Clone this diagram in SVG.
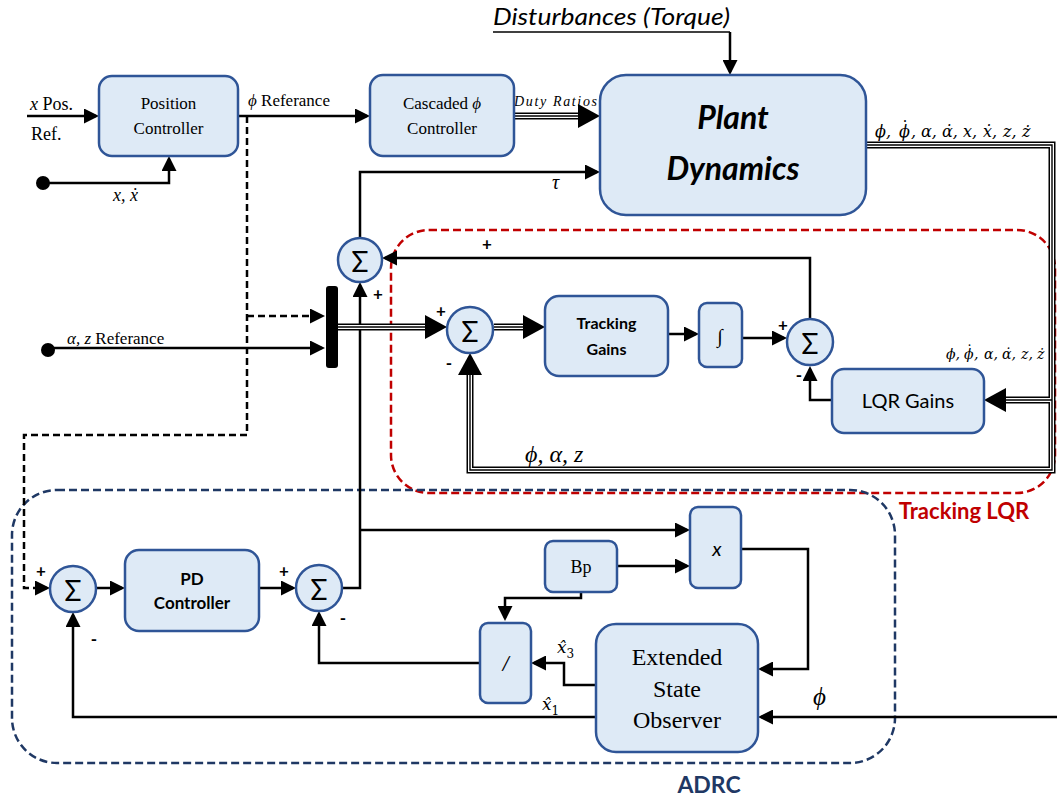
<svg xmlns="http://www.w3.org/2000/svg" width="1057" height="800" viewBox="0 0 1057 800">
<defs>
<style>
.box{fill:#DEEAF6;stroke:#2F5597;stroke-width:2.5}
.ln{fill:none;stroke:#000;stroke-width:2.5}
.dash{fill:none;stroke:#000;stroke-width:2.5;stroke-dasharray:7 4}
.t1{fill:none;stroke:#000;stroke-width:7}
.t2{fill:none;stroke:#fff;stroke-width:4}
.t3{fill:none;stroke:#000;stroke-width:1.4}
.serif{font-family:"Liberation Serif","DejaVu Serif",serif;fill:#000}
.math{font-family:"Liberation Serif","DejaVu Serif",serif;font-style:italic;fill:#000}
.dv{font-family:"DejaVu Serif","Liberation Serif",serif;font-style:italic;fill:#000}
.sans{font-family:Lato,"Open Sans","Liberation Sans",sans-serif;fill:#000}
.sig{font-family:Lato,"Open Sans","Liberation Sans",sans-serif;font-size:28px;text-anchor:middle;dominant-baseline:central}
.pm{font-family:Lato,"Liberation Sans",sans-serif;font-size:17px;font-weight:bold;text-anchor:middle;dominant-baseline:central}
.mid{text-anchor:middle}
</style>
<marker id="a" markerUnits="userSpaceOnUse" markerWidth="15" markerHeight="15" refX="12" refY="7.5" orient="auto"><path d="M0,0 L15,7.5 L0,15 z" fill="#000"/></marker>
<marker id="b" markerUnits="userSpaceOnUse" markerWidth="22" markerHeight="24" refX="14" refY="12" orient="auto"><path d="M0,0 L22,12 L0,24 z" fill="#000"/></marker>
</defs>
<rect width="1057" height="800" fill="#fff"/>

<g id="group-tracking-lqr">
<rect x="391" y="230" width="664" height="263" rx="38" fill="none" stroke="#C00000" stroke-width="2.5" stroke-dasharray="8 4"/>
<text x="964" y="519" class="sans mid" font-size="22" font-weight="bold" style="fill:#C00000">Tracking LQR</text>
</g>
<g id="group-adrc">
<rect x="12" y="490" width="883" height="273" rx="45" fill="none" stroke="#1F3864" stroke-width="2.5" stroke-dasharray="8 4"/>
<text x="709" y="793" class="sans mid" font-size="23" font-weight="bold" style="fill:#1F3864">ADRC</text>
</g>

<g id="connectors">
<path class="ln" d="M27,116 H96" marker-end="url(#a)"/>
<path class="ln" d="M43,183 H169 V159" marker-end="url(#a)"/>
<path class="ln" d="M238,116 H367" marker-end="url(#a)"/>
<path class="dash" d="M247,116 V435 H24 V588 H47" marker-end="url(#a)"/>
<path class="dash" d="M247,316 H322" marker-end="url(#a)"/>
<path class="ln" d="M48,348 H322" marker-end="url(#a)"/>
<path fill="none" stroke="#000" stroke-width="1.5" d="M493,32 H730"/>
<path class="ln" d="M730,32 V72" marker-end="url(#a)"/>
<path class="ln" d="M360,238 V172 H597" marker-end="url(#a)"/>
<path class="ln" d="M810,319 V258 H385" marker-end="url(#a)"/>
<path class="ln" d="M343,588 H360 V285" marker-end="url(#a)"/>
<path class="ln" d="M360,530 H687" marker-end="url(#a)"/>
<path class="ln" d="M668,334 H696" marker-end="url(#a)"/>
<path class="ln" d="M742,338 H784" marker-end="url(#a)"/>
<path class="ln" d="M832,400 H810 V369" marker-end="url(#a)"/>
<path class="ln" d="M97,588 H122" marker-end="url(#a)"/>
<path class="ln" d="M259,588 H293" marker-end="url(#a)"/>
<path class="ln" d="M480,663 H319 V614" marker-end="url(#a)"/>
<path class="ln" d="M596,717 H73 V615" marker-end="url(#a)"/>
<path class="ln" d="M617,566 H687" marker-end="url(#a)"/>
<path class="ln" d="M581,592 V598 H505 V618" marker-end="url(#a)"/>
<path class="ln" d="M741,549 H808 V669 H761" marker-end="url(#a)"/>
<path class="ln" d="M596,685 H564 V663 H534" marker-end="url(#a)"/>
<path class="ln" d="M1057,717 H761" marker-end="url(#a)"/>
<path class="t1" d="M514,116 H592"/>
<path class="t1" d="M338,327 H439"/>
<path class="t1" d="M494,327 H537"/>
<path class="t1" d="M866,145 H1052 V470 H470 V361"/>
<path class="t1" d="M1052,400 H992"/>
<path class="t2" d="M514,116 H592"/>
<path class="t2" d="M338,327 H439"/>
<path class="t2" d="M494,327 H537"/>
<path class="t2" d="M866,145 H1052 V470 H470 V361"/>
<path class="t2" d="M1052,400 H992"/>
<path class="t3" d="M514,116 H592" marker-end="url(#b)"/>
<path class="t3" d="M338,327 H439" marker-end="url(#b)"/>
<path class="t3" d="M494,327 H537" marker-end="url(#b)"/>
<path class="t3" d="M866,145 H1052 V470 H470 V361" marker-end="url(#b)"/>
<path class="t3" d="M1052,400 H992" marker-end="url(#b)"/>
</g>

<g id="labels">
<text x="30" y="110" class="serif" font-size="18"><tspan class="math">x</tspan> Pos.</text>
<text x="31" y="140" class="serif" font-size="18">Ref.</text>
<text x="113" y="201" class="math" font-size="18">x, ẋ</text>
<text x="248" y="106" class="serif" font-size="17"><tspan class="math">ϕ</tspan> Referance</text>
<text x="514" y="106" class="math" font-size="14" textLength="83" lengthAdjust="spacing">Duty Ratios</text>
<text x="493" y="25" class="sans" font-size="23" font-style="italic" textLength="237" lengthAdjust="spacingAndGlyphs">Disturbances (Torque)</text>
<text x="552" y="189" class="math" font-size="20">τ</text>
<text y="137" class="dv" font-size="16"><tspan x="875">ϕ,</tspan><tspan x="899">ϕ</tspan><tspan x="901" y="133" font-style="normal">˙</tspan><tspan x="911" y="137">,</tspan><tspan x="921">α,</tspan><tspan x="942">α̇,</tspan><tspan x="963">x,</tspan><tspan x="983">ẋ,</tspan><tspan x="1003">z,</tspan><tspan x="1022">ż</tspan></text>
<text x="67" y="344" class="serif" font-size="17"><tspan class="math">α, z</tspan> Referance</text>
<text y="359" class="dv" font-size="14"><tspan x="946">ϕ,</tspan><tspan x="964">ϕ</tspan><tspan x="966" y="356" font-style="normal">˙</tspan><tspan x="974" y="359">,</tspan><tspan x="984">α,</tspan><tspan x="1002">α̇,</tspan><tspan x="1021">z,</tspan><tspan x="1037">ż</tspan></text>
<text x="525" y="462" class="math" font-size="24">ϕ, α, z</text>
<text x="557" y="653" class="dv" font-size="17">x̂<tspan font-size="12" dy="5" font-style="normal">3</tspan></text>
<text x="542" y="710" class="dv" font-size="17">x̂<tspan font-size="12" dy="5" font-style="normal">1</tspan></text>
<text x="813" y="705" class="math" font-size="25">ϕ</text>
<text x="487" y="243" class="pm">+</text>
<text x="378" y="293" class="pm">+</text>
<text x="441" y="310" class="pm">+</text>
<text x="449" y="362" class="pm">-</text>
<text x="783" y="324" class="pm">+</text>
<text x="799" y="374" class="pm">-</text>
<text x="41" y="570" class="pm">+</text>
<text x="94" y="638" class="pm">-</text>
<text x="284" y="570" class="pm">+</text>
<text x="343" y="617" class="pm">-</text>
</g>

<g id="node-pos-dot"><circle cx="43" cy="183" r="7" fill="#000"/></g>
<g id="node-az-dot"><circle cx="48" cy="350" r="7" fill="#000"/></g>
<g id="node-position-controller">
<rect class="box" x="99" y="76" width="139" height="80" rx="13"/>
<text x="168.5" y="109" class="serif mid" font-size="17">Position</text>
<text x="168.5" y="134" class="serif mid" font-size="17">Controller</text>
</g>
<g id="node-cascaded">
<rect class="box" x="370" y="75" width="144" height="81" rx="13"/>
<text x="442" y="109" class="serif mid" font-size="17">Cascaded <tspan class="math">ϕ</tspan></text>
<text x="442" y="134" class="serif mid" font-size="17">Controller</text>
</g>
<g id="node-plant">
<rect class="box" x="600" y="75" width="266" height="140" rx="26"/>
<text x="733" y="129" class="sans mid" font-size="32" font-weight="bold" font-style="italic">Plant</text>
<text x="733" y="180" class="sans mid" font-size="32" font-weight="bold" font-style="italic">Dynamics</text>
</g>
<g id="node-sum1">
<circle class="box" cx="360" cy="260" r="22"/>
<text x="360" y="261" class="sig">Σ</text>
</g>
<g id="node-mux"><rect x="326" y="286" width="12" height="82" rx="3" fill="#000"/></g>
<g id="node-sum2">
<circle class="box" cx="470" cy="330" r="23"/>
<text x="470" y="331" class="sig">Σ</text>
</g>
<g id="node-tracking-gains">
<rect class="box" x="545" y="296" width="123" height="80" rx="14"/>
<text x="606.5" y="329" class="sans mid" font-size="16" font-weight="bold">Tracking</text>
<text x="606.5" y="355" class="sans mid" font-size="16" font-weight="bold">Gains</text>
</g>
<g id="node-integrator">
<rect class="box" x="699" y="303" width="43" height="64" rx="8"/>
<text x="720" y="343" class="math mid" font-size="20">∫</text>
</g>
<g id="node-sum3">
<circle class="box" cx="810" cy="342" r="23"/>
<text x="810" y="343" class="sig">Σ</text>
</g>
<g id="node-lqr-gains">
<rect class="box" x="832" y="369" width="152" height="64" rx="12"/>
<text x="908" y="408" class="sans mid" font-size="20">LQR Gains</text>
</g>
<g id="node-sum4">
<circle class="box" cx="73" cy="589" r="23"/>
<text x="73" y="590" class="sig">Σ</text>
</g>
<g id="node-pd">
<rect class="box" x="125" y="550" width="134" height="81" rx="14"/>
<text x="192" y="585" class="sans mid" font-size="17" font-weight="bold">PD</text>
<text x="192" y="609" class="sans mid" font-size="17" font-weight="bold">Controller</text>
</g>
<g id="node-sum5">
<circle class="box" cx="319" cy="588" r="23"/>
<text x="319" y="589" class="sig">Σ</text>
</g>
<g id="node-mult">
<rect class="box" x="690" y="507" width="51" height="81" rx="8"/>
<text x="717" y="556" class="sans mid" font-size="20" font-style="italic">x</text>
</g>
<g id="node-bp">
<rect class="box" x="545" y="541" width="72" height="51" rx="8"/>
<text x="581" y="573" class="serif mid" font-size="18">Bp</text>
</g>
<g id="node-div">
<rect class="box" x="480" y="623" width="51" height="80" rx="8"/>
<text x="506" y="670" class="sans mid" font-size="20" font-style="italic">/</text>
</g>
<g id="node-eso">
<rect class="box" x="596" y="624" width="162" height="128" rx="20"/>
<text x="677" y="665" class="serif mid" font-size="24">Extended</text>
<text x="677" y="697" class="serif mid" font-size="24">State</text>
<text x="677" y="728" class="serif mid" font-size="24">Observer</text>
</g>
</svg>
